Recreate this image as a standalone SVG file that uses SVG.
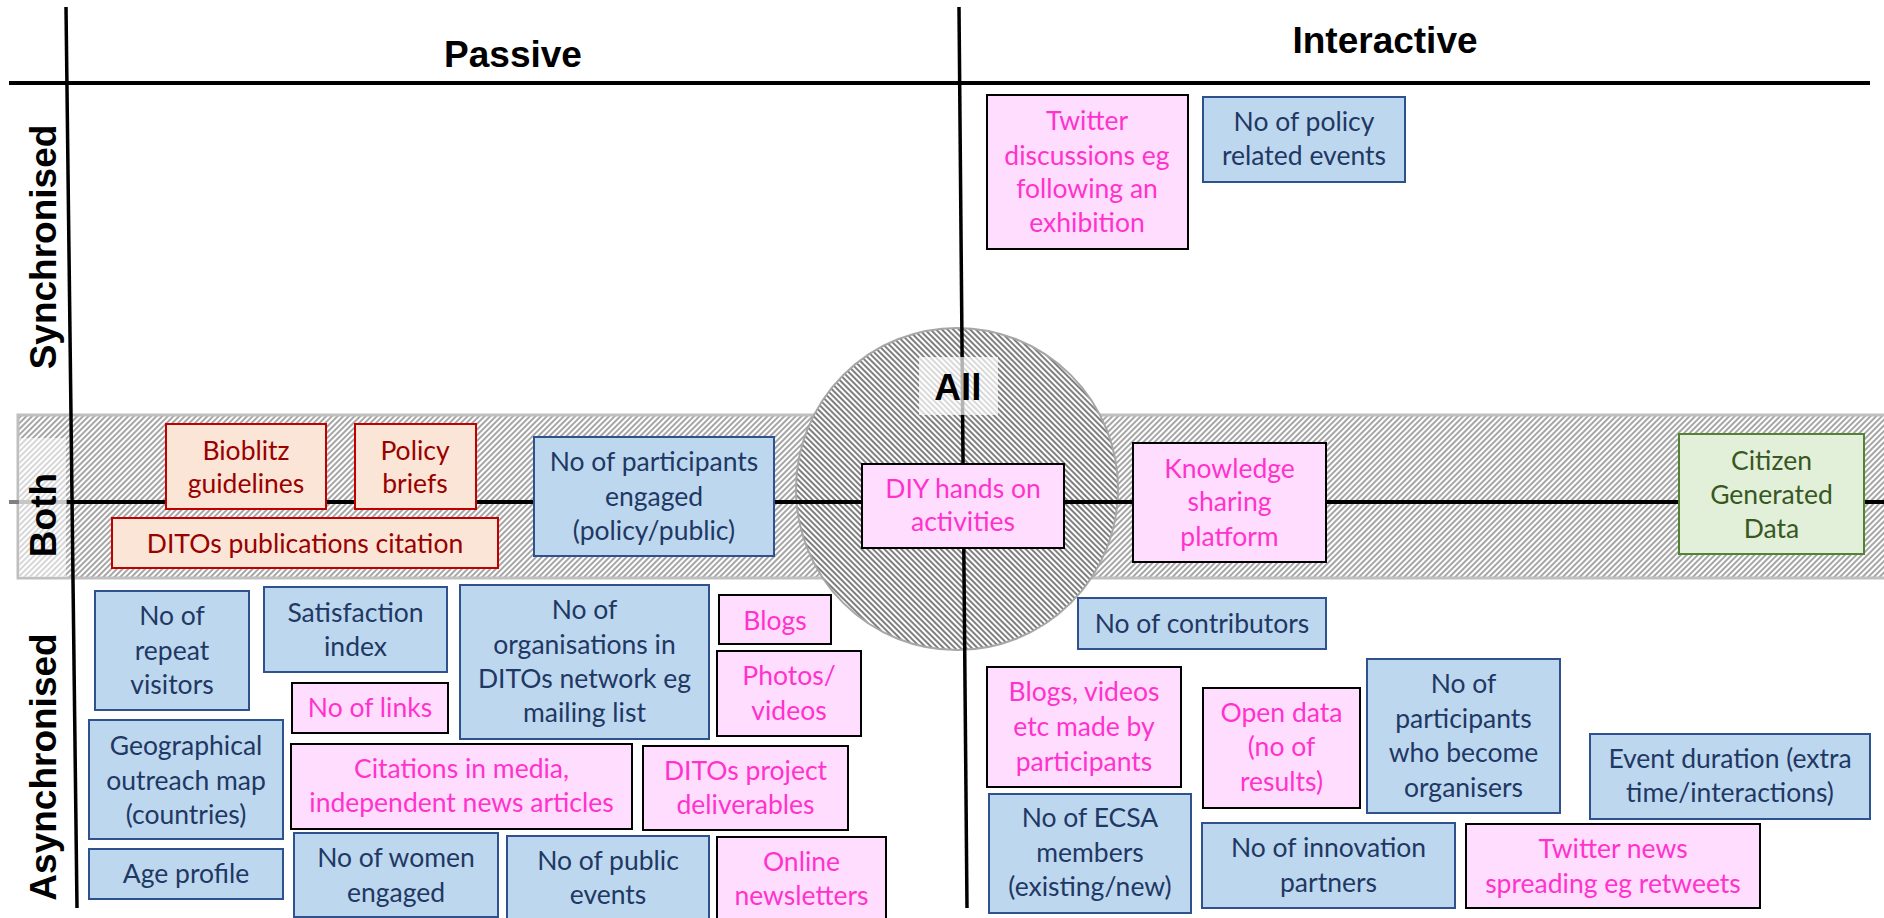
<svg xmlns="http://www.w3.org/2000/svg" width="1884" height="918" viewBox="0 0 1884 918">
<defs>
<pattern id="hatchBand" width="4" height="4" patternUnits="userSpaceOnUse" patternTransform="rotate(45)">
<rect width="4" height="4" fill="#ffffff"/>
<line x1="1" y1="0" x2="1" y2="4" stroke="#a6a6a6" stroke-width="2"/>
</pattern>
<pattern id="hatchCircle" width="4" height="4" patternUnits="userSpaceOnUse" patternTransform="rotate(-45)">
<rect width="4" height="4" fill="#ffffff"/>
<line x1="1" y1="0" x2="1" y2="4" stroke="#7f7f7f" stroke-width="2"/>
</pattern>
<style>
.axis{stroke:#000;stroke-width:4;fill:none}
.hdr{font-family:"Liberation Sans",Arial,sans-serif;font-weight:bold;font-size:37px;fill:#000;text-anchor:middle}
.box rect{stroke-width:2}
.box text{font-family:Lato,"Open Sans",sans-serif;font-size:26.5px;text-anchor:middle}
.blue rect{fill:#bdd7ee;stroke:#2f528f}
.blue text{fill:#1f3864}
.pink rect{fill:#ffddff;stroke:#000}
.pink text{fill:#ff33cc}
.peach rect{fill:#fbe5d6;stroke:#c00000}
.peach text{fill:#990000}
.green rect{fill:#e2f0d9;stroke:#548235}
.green text{fill:#385723}
</style>
</defs>
<rect width="1884" height="918" fill="#ffffff"/>

<g id="background">
<rect x="18" y="415" width="1880" height="163" fill="url(#hatchBand)" stroke="#bfbfbf" stroke-width="3"/>
<line x1="9" y1="502" x2="67" y2="502" stroke="#808080" stroke-width="4"/>
<rect x="19" y="438" width="47" height="139" fill="#ffffff" fill-opacity="0.55"/>
<circle cx="957" cy="489" r="161" fill="url(#hatchCircle)" stroke="#a6a6a6" stroke-width="2"/>
</g>

<g id="connectors">
<line class="axis" x1="9" y1="83" x2="1870" y2="83"/>
<line class="axis" x1="66" y1="7" x2="77" y2="908" style="stroke-width:3.5"/>
<line class="axis" x1="959" y1="7" x2="967" y2="908" style="stroke-width:3.5"/>
<line class="axis" x1="67" y1="502" x2="1884" y2="502"/>
</g>

<g id="labels">
<text class="hdr" x="513" y="67">Passive</text>
<text class="hdr" x="1385" y="53">Interactive</text>
<text class="hdr" transform="translate(56,247) rotate(-90)">Synchronised</text>
<text class="hdr" transform="translate(56,515) rotate(-90)">Both</text>
<text class="hdr" transform="translate(56,767) rotate(-90)">Asynchronised</text>
<rect x="919" y="357" width="79" height="58" fill="#ffffff" fill-opacity="0.7"/>
<text class="hdr" x="958" y="400">All</text>
</g>

<g id="twitter_discussions" class="box pink"><rect x="987" y="95" width="201" height="154"/>
<text x="1087" y="130">Twitter</text><text x="1087" y="165">discussions eg</text><text x="1087" y="198">following an</text><text x="1087" y="232">exhibition</text></g>
<g id="policy_events" class="box blue"><rect x="1203" y="97" width="202" height="85"/>
<text x="1304" y="131">No of policy</text><text x="1304" y="165">related events</text></g>

<g id="bioblitz" class="box peach"><rect x="166" y="424" width="160" height="85"/>
<text x="246" y="460">Bioblitz</text><text x="246" y="493">guidelines</text></g>
<g id="policy_briefs" class="box peach"><rect x="355" y="424" width="121" height="85"/>
<text x="415" y="460">Policy</text><text x="415" y="493">briefs</text></g>
<g id="ditos_publications" class="box peach"><rect x="112" y="518" width="386" height="50"/>
<text x="305" y="553">DITOs publications citation</text></g>
<g id="participants_engaged" class="box blue"><rect x="534" y="437" width="240" height="119"/>
<text x="654" y="471">No of participants</text><text x="654" y="506">engaged</text><text x="654" y="540">(policy/public)</text></g>
<g id="diy" class="box pink"><rect x="862" y="464" width="202" height="84"/>
<text x="963" y="498">DIY hands on</text><text x="963" y="531">activities</text></g>
<g id="knowledge" class="box pink"><rect x="1133" y="443" width="193" height="119"/>
<text x="1229.5" y="478">Knowledge</text><text x="1229.5" y="511">sharing</text><text x="1229.5" y="546">platform</text></g>
<g id="citizen_data" class="box green"><rect x="1679" y="434" width="185" height="120"/>
<text x="1771.5" y="470">Citizen</text><text x="1771.5" y="504">Generated</text><text x="1771.5" y="538">Data</text></g>

<g id="repeat_visitors" class="box blue"><rect x="95" y="591" width="154" height="119"/>
<text x="172" y="625">No of</text><text x="172" y="660">repeat</text><text x="172" y="694">visitors</text></g>
<g id="satisfaction" class="box blue"><rect x="264" y="587" width="183" height="85"/>
<text x="355.5" y="622">Satisfaction</text><text x="355.5" y="656">index</text></g>
<g id="no_links" class="box pink"><rect x="292" y="683" width="156" height="50"/>
<text x="370" y="717">No of links</text></g>
<g id="organisations" class="box blue"><rect x="460" y="585" width="249" height="154"/>
<text x="584.5" y="619">No of</text><text x="584.5" y="654">organisations in</text><text x="584.5" y="688">DITOs network eg</text><text x="584.5" y="722">mailing list</text></g>
<g id="blogs" class="box pink"><rect x="719" y="595" width="112" height="49"/>
<text x="775" y="630">Blogs</text></g>
<g id="photos" class="box pink"><rect x="717" y="651" width="144" height="85"/>
<text x="789" y="685">Photos/</text><text x="789" y="720">videos</text></g>
<g id="geo_map" class="box blue"><rect x="89" y="720" width="194" height="119"/>
<text x="186" y="755">Geographical</text><text x="186" y="790">outreach map</text><text x="186" y="824">(countries)</text></g>
<g id="citations" class="box pink"><rect x="291" y="744" width="341" height="85"/>
<text x="461.5" y="778">Citations in media,</text><text x="461.5" y="812">independent news articles</text></g>
<g id="deliverables" class="box pink"><rect x="643" y="746" width="205" height="84"/>
<text x="745.5" y="780">DITOs project</text><text x="745.5" y="814">deliverables</text></g>
<g id="age_profile" class="box blue"><rect x="89" y="849" width="194" height="50"/>
<text x="186" y="883">Age profile</text></g>
<g id="women" class="box blue"><rect x="294" y="833" width="204" height="84"/>
<text x="396" y="867">No of women</text><text x="396" y="902">engaged</text></g>
<g id="public_events" class="box blue"><rect x="507" y="836" width="202" height="90"/>
<text x="608" y="870">No of public</text><text x="608" y="904">events</text></g>
<g id="newsletters" class="box pink"><rect x="717" y="837" width="169" height="90"/>
<text x="801.5" y="871">Online</text><text x="801.5" y="905">newsletters</text></g>

<g id="contributors" class="box blue"><rect x="1078" y="598" width="248" height="51"/>
<text x="1202" y="633">No of contributors</text></g>
<g id="blogs_videos" class="box pink"><rect x="987" y="667" width="194" height="120"/>
<text x="1084" y="701">Blogs, videos</text><text x="1084" y="736">etc made by</text><text x="1084" y="771">participants</text></g>
<g id="open_data" class="box pink"><rect x="1203" y="688" width="157" height="120"/>
<text x="1281.5" y="722">Open data</text><text x="1281.5" y="756">(no of</text><text x="1281.5" y="791">results)</text></g>
<g id="become_organisers" class="box blue"><rect x="1367" y="659" width="193" height="154"/>
<text x="1463.5" y="693">No of</text><text x="1463.5" y="728">participants</text><text x="1463.5" y="762">who become</text><text x="1463.5" y="797">organisers</text></g>
<g id="event_duration" class="box blue"><rect x="1590" y="734" width="280" height="85"/>
<text x="1730" y="768">Event duration (extra</text><text x="1730" y="802">time/interactions)</text></g>
<g id="ecsa_members" class="box blue"><rect x="989" y="794" width="202" height="119"/>
<text x="1090" y="827">No of ECSA</text><text x="1090" y="862">members</text><text x="1090" y="896">(existing/new)</text></g>
<g id="innovation_partners" class="box blue"><rect x="1202" y="823" width="253" height="85"/>
<text x="1328.5" y="857">No of innovation</text><text x="1328.5" y="892">partners</text></g>
<g id="twitter_news" class="box pink"><rect x="1466" y="824" width="294" height="84"/>
<text x="1613" y="858">Twitter news</text><text x="1613" y="893">spreading eg retweets</text></g>
</svg>
